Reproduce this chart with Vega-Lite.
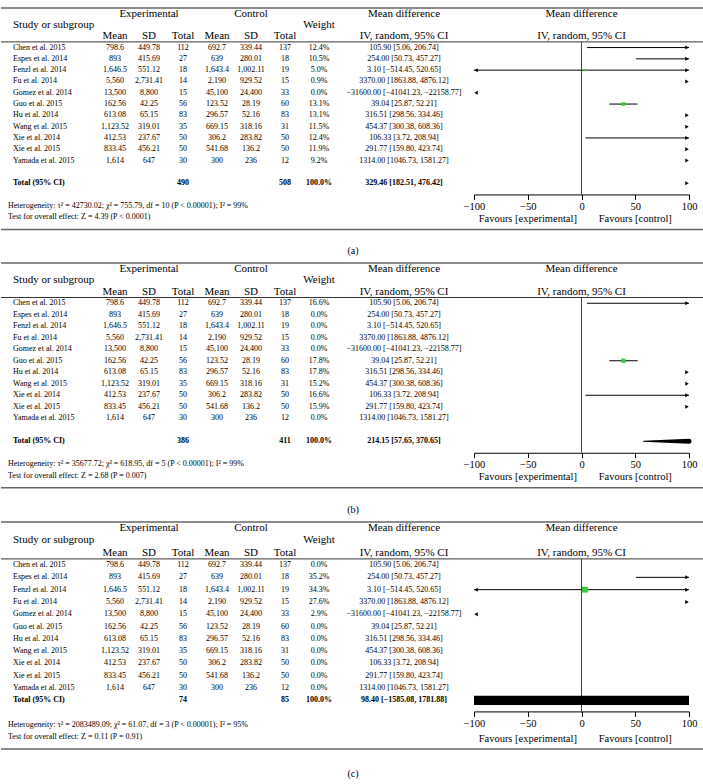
{
"$schema": "https://vega.github.io/schema/vega-lite/v6.json",
"padding": {"left": 0, "right": 0, "top": 7, "bottom": 0},
"spacing": 5,
"config": {"view": {"stroke": null}, "text": {"font": "Liberation Serif", "color": "#000", "baseline": "middle"}},
"datasets": {
"studies": [
{"name":"Chen et al. 2015","eMean":"798.6","eSD":"449.78","eTot":"112","cMean":"692.7","cSD":"339.44","cTot":"137","md":"105.90 [5.06, 206.74]","est":105.9,"lo":5.06,"hi":206.74,"wa":0.124,"wb":0.166,"wc":0},
{"name":"Espes et al. 2014","eMean":"893","eSD":"415.69","eTot":"27","cMean":"639","cSD":"280.01","cTot":"18","md":"254.00 [50.73, 457.27]","est":254,"lo":50.73,"hi":457.27,"wa":0.105,"wb":0,"wc":0.352},
{"name":"Fenzl et al. 2014","eMean":"1,646.5","eSD":"551.12","eTot":"18","cMean":"1,643.4","cSD":"1,002.11","cTot":"19","md":"3.10 [−514.45, 520.65]","est":3.1,"lo":-514.45,"hi":520.65,"wa":0.05,"wb":0,"wc":0.343},
{"name":"Fu et al. 2014","eMean":"5,560","eSD":"2,731.41","eTot":"14","cMean":"2,190","cSD":"929.52","cTot":"15","md":"3370.00 [1863.88, 4876.12]","est":3370,"lo":1863.88,"hi":4876.12,"wa":0.009,"wb":0,"wc":0.276},
{"name":"Gomez et al. 2014","eMean":"13,500","eSD":"8,800","eTot":"15","cMean":"45,100","cSD":"24,400","cTot":"33","md":"−31600.00 [−41041.23, −22158.77]","est":-31600,"lo":-41041.23,"hi":-22158.77,"wa":0,"wb":0,"wc":0.029},
{"name":"Guo et al. 2015","eMean":"162.56","eSD":"42.25","eTot":"56","cMean":"123.52","cSD":"28.19","cTot":"60","md":"39.04 [25.87, 52.21]","est":39.04,"lo":25.87,"hi":52.21,"wa":0.131,"wb":0.178,"wc":0},
{"name":"Hu et al. 2014","eMean":"613.08","eSD":"65.15","eTot":"83","cMean":"296.57","cSD":"52.16","cTot":"83","md":"316.51 [298.56, 334.46]","est":316.51,"lo":298.56,"hi":334.46,"wa":0.131,"wb":0.178,"wc":0},
{"name":"Wang et al. 2015","eMean":"1,123.52","eSD":"319.01","eTot":"35","cMean":"669.15","cSD":"318.16","cTot":"31","md":"454.37 [300.38, 608.36]","est":454.37,"lo":300.38,"hi":608.36,"wa":0.115,"wb":0.152,"wc":0},
{"name":"Xie et al. 2014","eMean":"412.53","eSD":"237.67","eTot":"50","cMean":"306.2","cSD":"283.82","cTot":"50","md":"106.33 [3.72, 208.94]","est":106.33,"lo":3.72,"hi":208.94,"wa":0.124,"wb":0.166,"wc":0},
{"name":"Xie et al. 2015","eMean":"833.45","eSD":"456.21","eTot":"50","cMean":"541.68","cSD":"136.2","cTot":"50","md":"291.77 [159.80, 423.74]","est":291.77,"lo":159.8,"hi":423.74,"wa":0.119,"wb":0.159,"wc":0},
{"name":"Yamada et al. 2015","eMean":"1,614","eSD":"647","eTot":"30","cMean":"300","cSD":"236","cTot":"12","md":"1314.00 [1046.73, 1581.27]","est":1314,"lo":1046.73,"hi":1581.27,"wa":0.092,"wb":0,"wc":0}
],
"heads": [
{"line":"h1","col":"eSD","t":"Experimental"},{"line":"h1","col":"cSD","t":"Control"},{"line":"h1","col":"md","t":"Mean difference"},{"line":"hm","col":"wt","t":"Weight"},
{"line":"h2","col":"eMean","t":"Mean"},{"line":"h2","col":"eSD","t":"SD"},{"line":"h2","col":"eTot","t":"Total"},
{"line":"h2","col":"cMean","t":"Mean"},{"line":"h2","col":"cSD","t":"SD"},{"line":"h2","col":"cTot","t":"Total"},{"line":"h2","col":"md","t":"IV, random, 95% CI"}
],
"fheads": [{"line":"h1","t":"Mean difference"},{"line":"h2","t":"IV, random, 95% CI"}]
},
"vconcat": [
{
"width": 703, "height": {"step": 11.3},
"resolve": {"scale": {"x": "independent"}, "axis": {"x": "independent"}},
"layer": [
{"layer": [
{"data": {"values": [{"line":"h1"}]}, "mark": {"type":"rule","color":"#666","strokeWidth":1.5},
 "encoding": {"y": {"field":"line","type":"ordinal","bandPosition":0,"axis":null,
  "scale": {"type":"band","paddingInner":0,"paddingOuter":0,"domain":["h1","hm","h2","Chen et al. 2015","Espes et al. 2014","Fenzl et al. 2014","Fu et al. 2014","Gomez et al. 2014","Guo et al. 2015","Hu et al. 2014","Wang et al. 2015","Xie et al. 2014","Xie et al. 2015","Yamada et al. 2015","gap","Total (95% CI)","axis","het","test","bot","gap2","lab"]}}}},
{"data": {"values": [{"line":"Chen et al. 2015"}]}, "mark": {"type":"rule","color":"#000","strokeWidth":0.8}, "encoding": {"y": {"field":"line","type":"ordinal","bandPosition":0}}},
{"data": {"values": [{"line":"bot"}]}, "mark": {"type":"rule","color":"#666","strokeWidth":1.5}, "encoding": {"y": {"field":"line","type":"ordinal","bandPosition":0.6}}},
{"data": {"name":"studies"}, "transform": [{"fold":["eMean","eSD","eTot","cMean","cSD","cTot","md"],"as":["col","val"]}],
 "mark": {"type":"text","fontSize":8},
 "encoding": {"x": {"field":"col","type":"nominal","axis":null,"scale":{"type":"point","padding":0,"range":[12,403],"domain":["name","s1","s2","s3","s4","s5","eMean","g1","eSD","g2","eTot","g3","cMean","g4","cSD","g5","cTot","g6","wt","g7","lab","g8","g9","md"]}},
  "y": {"field":"name","type":"ordinal"}, "text": {"field":"val"}}},
{"data": {"name":"studies"}, "mark": {"type":"text","fontSize":8,"align":"left"}, "encoding": {"x": {"datum":"name","type":"nominal"}, "y": {"field":"name","type":"ordinal"}, "text": {"field":"name"}}},
{"data": {"name":"studies"}, "mark": {"type":"text","fontSize":8}, "encoding": {"x": {"datum":"wt","type":"nominal"}, "y": {"field":"name","type":"ordinal"}, "text": {"field":"wa","type":"quantitative","format":".1%"}}},
{"data": {"name":"heads"}, "mark": {"type":"text","fontSize":11}, "encoding": {"x": {"field":"col","type":"nominal"}, "y": {"field":"line","type":"ordinal"}, "text": {"field":"t"}}},
{"data": {"values": [{"line":"hm","t":"Study or subgroup"}]}, "mark": {"type":"text","fontSize":11,"align":"left"}, "encoding": {"x": {"datum":"name","type":"nominal"}, "y": {"field":"line","type":"ordinal"}, "text": {"field":"t"}}},
{"data": {"values": [{"name":"Total (95% CI)","eTot":"490","cTot":"508","wt":"100.0%","md":"329.46 [182.51, 476.42]"}]}, "transform": [{"fold":["eTot","cTot","wt","md"],"as":["col","val"]}],
 "mark": {"type":"text","fontSize":8,"fontWeight":"bold"}, "encoding": {"x": {"field":"col","type":"nominal"}, "y": {"field":"name","type":"ordinal"}, "text": {"field":"val"}}},
{"data": {"values": [{"name":"Total (95% CI)"}]}, "mark": {"type":"text","fontSize":8,"fontWeight":"bold","align":"left"}, "encoding": {"x": {"datum":"name","type":"nominal"}, "y": {"field":"name","type":"ordinal"}, "text": {"field":"name"}}},
{"data": {"values": [{"line":"het","t":"Heterogeneity: τ² = 42730.02; χ² = 755.79, df = 10 (P < 0.00001); I² = 99%"},{"line":"test","t":"Test for overall effect: Z = 4.39 (P < 0.0001)"}]},
 "mark": {"type":"text","fontSize":8,"align":"left","dx":-5}, "encoding": {"x": {"datum":"name","type":"nominal"}, "y": {"field":"line","type":"ordinal"}, "text": {"field":"t"}}},
{"data": {"values": [{"line":"lab","t":"(a)"}]}, "mark": {"type":"text","fontSize":10}, "encoding": {"x": {"datum":"lab","type":"nominal"}, "y": {"field":"line","type":"ordinal"}, "text": {"field":"t"}}}
]},
{"resolve": {"scale": {"size": "independent"}},
"layer": [
{"data": {"values": [{}]}, "mark": {"type":"rule","color":"#444","strokeWidth":1},
 "encoding": {"x": {"datum":0,"type":"quantitative","scale":{"domain":[-100,100],"range":[473,688],"clamp":true},
  "axis":{"orient":"bottom","values":[-100,-50,0,50,100],"offset":-62.15,"title":null,"grid":false,"labelFlush":false,"labelFont":"Liberation Serif","labelFontSize":10.5,"labelColor":"#000","domainColor":"#000","tickColor":"#000","tickSize":5,"labelPadding":2,"domainWidth":1,"tickWidth":1}},
  "y": {"datum":"Chen et al. 2015","type":"ordinal","bandPosition":0}, "y2": {"datum":"axis"}}},
{"data": {"name":"studies"}, "mark": {"type":"rule","color":"#000","strokeWidth":1}, "encoding": {"x": {"field":"lo","type":"quantitative"}, "x2": {"field":"hi"}, "y": {"field":"name","type":"ordinal"}}},
{"data": {"name":"studies"}, "transform": [{"filter":"datum.hi > 100"}], "mark": {"type":"point","shape":"triangle-right","filled":true,"color":"#000","opacity":1,"size":16,"xOffset":-2}, "encoding": {"x": {"field":"hi","type":"quantitative"}, "y": {"field":"name","type":"ordinal"}}},
{"data": {"name":"studies"}, "transform": [{"filter":"datum.lo < -100"}], "mark": {"type":"point","shape":"triangle-left","filled":true,"color":"#000","opacity":1,"size":16,"xOffset":2}, "encoding": {"x": {"field":"lo","type":"quantitative"}, "y": {"field":"name","type":"ordinal"}}},
{"data": {"name":"studies"}, "transform": [{"filter":"datum.est >= -100 && datum.est <= 100"}], "mark": {"type":"square","filled":true,"color":"#33cc33","opacity":1},
 "encoding": {"x": {"field":"est","type":"quantitative"}, "y": {"field":"name","type":"ordinal"}, "size": {"field":"wa","type":"quantitative","scale":{"domain":[0,1],"range":[0,100]},"legend":null}}},
{"data": {"values": [{"name":"Total (95% CI)","lo":182.51,"hi":476.42}]}, "mark": {"type":"point","shape":"triangle-right","filled":true,"color":"#000","opacity":1,"size":16,"xOffset":-2}, "encoding": {"x": {"field":"hi","type":"quantitative"}, "y": {"field":"name","type":"ordinal"}}},
{"data": {"name":"fheads"}, "mark": {"type":"text","fontSize":11}, "encoding": {"x": {"datum":0,"type":"quantitative"}, "y": {"field":"line","type":"ordinal"}, "text": {"field":"t"}}},
{"data": {"values": [{"line":"test","t":"Favours [experimental]"}]}, "mark": {"type":"text","fontSize":10.5,"dy":1.5}, "encoding": {"x": {"datum":-50,"type":"quantitative"}, "y": {"field":"line","type":"ordinal"}, "text": {"field":"t"}}},
{"data": {"values": [{"line":"test","t":"Favours [control]"}]}, "mark": {"type":"text","fontSize":10.5,"dy":1.5}, "encoding": {"x": {"datum":50,"type":"quantitative"}, "y": {"field":"line","type":"ordinal"}, "text": {"field":"t"}}}
]}
]
},
{
"width": 703, "height": {"step": 11.5},
"resolve": {"scale": {"x": "independent"}, "axis": {"x": "independent"}},
"layer": [
{"layer": [
{"data": {"values": [{"line":"h1"}]}, "mark": {"type":"rule","color":"#666","strokeWidth":1.5},
 "encoding": {"y": {"field":"line","type":"ordinal","bandPosition":0,"axis":null,
  "scale": {"type":"band","paddingInner":0,"paddingOuter":0,"domain":["h1","hm","h2","Chen et al. 2015","Espes et al. 2014","Fenzl et al. 2014","Fu et al. 2014","Gomez et al. 2014","Guo et al. 2015","Hu et al. 2014","Wang et al. 2015","Xie et al. 2014","Xie et al. 2015","Yamada et al. 2015","gap","Total (95% CI)","axis","het","test","bot","gap2","lab"]}}}},
{"data": {"values": [{"line":"Chen et al. 2015"}]}, "mark": {"type":"rule","color":"#000","strokeWidth":0.8}, "encoding": {"y": {"field":"line","type":"ordinal","bandPosition":0}}},
{"data": {"values": [{"line":"bot"}]}, "mark": {"type":"rule","color":"#666","strokeWidth":1.5}, "encoding": {"y": {"field":"line","type":"ordinal","bandPosition":0.55}}},
{"data": {"name":"studies"}, "transform": [{"fold":["eMean","eSD","eTot","cMean","cSD","cTot","md"],"as":["col","val"]}],
 "mark": {"type":"text","fontSize":8},
 "encoding": {"x": {"field":"col","type":"nominal","axis":null,"scale":{"type":"point","padding":0,"range":[12,403],"domain":["name","s1","s2","s3","s4","s5","eMean","g1","eSD","g2","eTot","g3","cMean","g4","cSD","g5","cTot","g6","wt","g7","lab","g8","g9","md"]}},
  "y": {"field":"name","type":"ordinal"}, "text": {"field":"val"}}},
{"data": {"name":"studies"}, "mark": {"type":"text","fontSize":8,"align":"left"}, "encoding": {"x": {"datum":"name","type":"nominal"}, "y": {"field":"name","type":"ordinal"}, "text": {"field":"name"}}},
{"data": {"name":"studies"}, "mark": {"type":"text","fontSize":8}, "encoding": {"x": {"datum":"wt","type":"nominal"}, "y": {"field":"name","type":"ordinal"}, "text": {"field":"wb","type":"quantitative","format":".1%"}}},
{"data": {"name":"heads"}, "mark": {"type":"text","fontSize":11}, "encoding": {"x": {"field":"col","type":"nominal"}, "y": {"field":"line","type":"ordinal"}, "text": {"field":"t"}}},
{"data": {"values": [{"line":"hm","t":"Study or subgroup"}]}, "mark": {"type":"text","fontSize":11,"align":"left"}, "encoding": {"x": {"datum":"name","type":"nominal"}, "y": {"field":"line","type":"ordinal"}, "text": {"field":"t"}}},
{"data": {"values": [{"name":"Total (95% CI)","eTot":"386","cTot":"411","wt":"100.0%","md":"214.15 [57.65, 370.65]"}]}, "transform": [{"fold":["eTot","cTot","wt","md"],"as":["col","val"]}],
 "mark": {"type":"text","fontSize":8,"fontWeight":"bold"}, "encoding": {"x": {"field":"col","type":"nominal"}, "y": {"field":"name","type":"ordinal"}, "text": {"field":"val"}}},
{"data": {"values": [{"name":"Total (95% CI)"}]}, "mark": {"type":"text","fontSize":8,"fontWeight":"bold","align":"left"}, "encoding": {"x": {"datum":"name","type":"nominal"}, "y": {"field":"name","type":"ordinal"}, "text": {"field":"name"}}},
{"data": {"values": [{"line":"het","t":"Heterogeneity: τ² = 35677.72; χ² = 618.95, df = 5 (P < 0.00001); I² = 99%"},{"line":"test","t":"Test for overall effect: Z = 2.68 (P = 0.007)"}]},
 "mark": {"type":"text","fontSize":8,"align":"left","dx":-5}, "encoding": {"x": {"datum":"name","type":"nominal"}, "y": {"field":"line","type":"ordinal"}, "text": {"field":"t"}}},
{"data": {"values": [{"line":"lab","t":"(b)"}]}, "mark": {"type":"text","fontSize":10}, "encoding": {"x": {"datum":"lab","type":"nominal"}, "y": {"field":"line","type":"ordinal"}, "text": {"field":"t"}}}
]},
{"resolve": {"scale": {"size": "independent"}},
"layer": [
{"data": {"values": [{}]}, "mark": {"type":"rule","color":"#444","strokeWidth":1},
 "encoding": {"x": {"datum":0,"type":"quantitative","scale":{"domain":[-100,100],"range":[473,688],"clamp":true},
  "axis":{"orient":"bottom","values":[-100,-50,0,50,100],"offset":-63.25,"title":null,"grid":false,"labelFlush":false,"labelFont":"Liberation Serif","labelFontSize":10.5,"labelColor":"#000","domainColor":"#000","tickColor":"#000","tickSize":5,"labelPadding":2,"domainWidth":1,"tickWidth":1}},
  "y": {"datum":"Chen et al. 2015","type":"ordinal","bandPosition":0}, "y2": {"datum":"axis"}}},
{"data": {"name":"studies"}, "transform": [{"filter":"datum.wb > 0"}], "mark": {"type":"rule","color":"#000","strokeWidth":1}, "encoding": {"x": {"field":"lo","type":"quantitative"}, "x2": {"field":"hi"}, "y": {"field":"name","type":"ordinal"}}},
{"data": {"name":"studies"}, "transform": [{"filter":"datum.wb > 0 && datum.hi > 100"}], "mark": {"type":"point","shape":"triangle-right","filled":true,"color":"#000","opacity":1,"size":16,"xOffset":-2}, "encoding": {"x": {"field":"hi","type":"quantitative"}, "y": {"field":"name","type":"ordinal"}}},
{"data": {"name":"studies"}, "transform": [{"filter":"datum.wb > 0 && datum.lo < -100"}], "mark": {"type":"point","shape":"triangle-left","filled":true,"color":"#000","opacity":1,"size":16,"xOffset":2}, "encoding": {"x": {"field":"lo","type":"quantitative"}, "y": {"field":"name","type":"ordinal"}}},
{"data": {"name":"studies"}, "transform": [{"filter":"datum.wb > 0 && datum.est >= -100 && datum.est <= 100"}], "mark": {"type":"square","filled":true,"color":"#33cc33","opacity":1},
 "encoding": {"x": {"field":"est","type":"quantitative"}, "y": {"field":"name","type":"ordinal"}, "size": {"field":"wb","type":"quantitative","scale":{"domain":[0,1],"range":[0,100]},"legend":null}}},
{"data": {"values": [{"name":"Total (95% CI)","lo":57.65,"est":214.15,"hi":370.65}]}, "transform": [{"fold":["lo","est"],"as":["k","v"]}],
 "mark": {"type":"trail","color":"#000"},
 "encoding": {"x": {"field":"v","type":"quantitative"}, "y": {"field":"name","type":"ordinal"}, "size": {"field":"k","type":"ordinal","scale":{"type":"point","padding":0,"domain":["lo","est"],"range":[0,5]},"legend":null}}},
{"data": {"name":"fheads"}, "mark": {"type":"text","fontSize":11}, "encoding": {"x": {"datum":0,"type":"quantitative"}, "y": {"field":"line","type":"ordinal"}, "text": {"field":"t"}}},
{"data": {"values": [{"line":"test","t":"Favours [experimental]"}]}, "mark": {"type":"text","fontSize":10.5,"dy":1.5}, "encoding": {"x": {"datum":-50,"type":"quantitative"}, "y": {"field":"line","type":"ordinal"}, "text": {"field":"t"}}},
{"data": {"values": [{"line":"test","t":"Favours [control]"}]}, "mark": {"type":"text","fontSize":10.5,"dy":1.5}, "encoding": {"x": {"datum":50,"type":"quantitative"}, "y": {"field":"line","type":"ordinal"}, "text": {"field":"t"}}}
]}
]
},
{
"width": 703, "height": {"step": 12.3},
"resolve": {"scale": {"x": "independent"}, "axis": {"x": "independent"}},
"layer": [
{"layer": [
{"data": {"values": [{"line":"h1"}]}, "mark": {"type":"rule","color":"#666","strokeWidth":1.5},
 "encoding": {"y": {"field":"line","type":"ordinal","bandPosition":0,"axis":null,
  "scale": {"type":"band","paddingInner":0,"paddingOuter":0,"domain":["h1","hm","h2","Chen et al. 2015","Espes et al. 2014","Fenzl et al. 2014","Fu et al. 2014","Gomez et al. 2014","Guo et al. 2015","Hu et al. 2014","Wang et al. 2015","Xie et al. 2014","Xie et al. 2015","Yamada et al. 2015","Total (95% CI)","axis","het","test","bot","gap2","lab"]}}}},
{"data": {"values": [{"line":"Chen et al. 2015"}]}, "mark": {"type":"rule","color":"#000","strokeWidth":0.8}, "encoding": {"y": {"field":"line","type":"ordinal","bandPosition":0}}},
{"data": {"values": [{"line":"bot"}]}, "mark": {"type":"rule","color":"#666","strokeWidth":1.5}, "encoding": {"y": {"field":"line","type":"ordinal","bandPosition":0.45}}},
{"data": {"name":"studies"}, "transform": [{"fold":["eMean","eSD","eTot","cMean","cSD","cTot","md"],"as":["col","val"]}],
 "mark": {"type":"text","fontSize":8},
 "encoding": {"x": {"field":"col","type":"nominal","axis":null,"scale":{"type":"point","padding":0,"range":[12,403],"domain":["name","s1","s2","s3","s4","s5","eMean","g1","eSD","g2","eTot","g3","cMean","g4","cSD","g5","cTot","g6","wt","g7","lab","g8","g9","md"]}},
  "y": {"field":"name","type":"ordinal"}, "text": {"field":"val"}}},
{"data": {"name":"studies"}, "mark": {"type":"text","fontSize":8,"align":"left"}, "encoding": {"x": {"datum":"name","type":"nominal"}, "y": {"field":"name","type":"ordinal"}, "text": {"field":"name"}}},
{"data": {"name":"studies"}, "mark": {"type":"text","fontSize":8}, "encoding": {"x": {"datum":"wt","type":"nominal"}, "y": {"field":"name","type":"ordinal"}, "text": {"field":"wc","type":"quantitative","format":".1%"}}},
{"data": {"name":"heads"}, "mark": {"type":"text","fontSize":11}, "encoding": {"x": {"field":"col","type":"nominal"}, "y": {"field":"line","type":"ordinal"}, "text": {"field":"t"}}},
{"data": {"values": [{"line":"hm","t":"Study or subgroup"}]}, "mark": {"type":"text","fontSize":11,"align":"left"}, "encoding": {"x": {"datum":"name","type":"nominal"}, "y": {"field":"line","type":"ordinal"}, "text": {"field":"t"}}},
{"data": {"values": [{"name":"Total (95% CI)","eTot":"74","cTot":"85","wt":"100.0%","md":"98.40 [−1585.08, 1781.88]"}]}, "transform": [{"fold":["eTot","cTot","wt","md"],"as":["col","val"]}],
 "mark": {"type":"text","fontSize":8,"fontWeight":"bold"}, "encoding": {"x": {"field":"col","type":"nominal"}, "y": {"field":"name","type":"ordinal"}, "text": {"field":"val"}}},
{"data": {"values": [{"name":"Total (95% CI)"}]}, "mark": {"type":"text","fontSize":8,"fontWeight":"bold","align":"left"}, "encoding": {"x": {"datum":"name","type":"nominal"}, "y": {"field":"name","type":"ordinal"}, "text": {"field":"name"}}},
{"data": {"values": [{"line":"het","t":"Heterogeneity: τ² = 2083489.09; χ² = 61.07, df = 3 (P < 0.00001); I² = 95%"},{"line":"test","t":"Test for overall effect: Z = 0.11 (P = 0.91)"}]},
 "mark": {"type":"text","fontSize":8,"align":"left","dx":-5}, "encoding": {"x": {"datum":"name","type":"nominal"}, "y": {"field":"line","type":"ordinal"}, "text": {"field":"t"}}},
{"data": {"values": [{"line":"lab","t":"(c)"}]}, "mark": {"type":"text","fontSize":10}, "encoding": {"x": {"datum":"lab","type":"nominal"}, "y": {"field":"line","type":"ordinal"}, "text": {"field":"t"}}}
]},
{"resolve": {"scale": {"size": "independent"}},
"layer": [
{"data": {"values": [{}]}, "mark": {"type":"rule","color":"#444","strokeWidth":1},
 "encoding": {"x": {"datum":0,"type":"quantitative","scale":{"domain":[-100,100],"range":[473,688],"clamp":true},
  "axis":{"orient":"bottom","values":[-100,-50,0,50,100],"offset":-68.88,"title":null,"grid":false,"labelFlush":false,"labelFont":"Liberation Serif","labelFontSize":10.5,"labelColor":"#000","domainColor":"#000","tickColor":"#000","tickSize":5,"labelPadding":2,"domainWidth":1,"tickWidth":1}},
  "y": {"datum":"Chen et al. 2015","type":"ordinal","bandPosition":0}, "y2": {"datum":"axis"}}},
{"data": {"name":"studies"}, "transform": [{"filter":"datum.wc > 0"}], "mark": {"type":"rule","color":"#000","strokeWidth":1}, "encoding": {"x": {"field":"lo","type":"quantitative"}, "x2": {"field":"hi"}, "y": {"field":"name","type":"ordinal"}}},
{"data": {"name":"studies"}, "transform": [{"filter":"datum.wc > 0 && datum.hi > 100"}], "mark": {"type":"point","shape":"triangle-right","filled":true,"color":"#000","opacity":1,"size":16,"xOffset":-2}, "encoding": {"x": {"field":"hi","type":"quantitative"}, "y": {"field":"name","type":"ordinal"}}},
{"data": {"name":"studies"}, "transform": [{"filter":"datum.wc > 0 && datum.lo < -100"}], "mark": {"type":"point","shape":"triangle-left","filled":true,"color":"#000","opacity":1,"size":16,"xOffset":2}, "encoding": {"x": {"field":"lo","type":"quantitative"}, "y": {"field":"name","type":"ordinal"}}},
{"data": {"name":"studies"}, "transform": [{"filter":"datum.wc > 0 && datum.est >= -100 && datum.est <= 100"}], "mark": {"type":"square","filled":true,"color":"#33cc33","opacity":1},
 "encoding": {"x": {"field":"est","type":"quantitative"}, "y": {"field":"name","type":"ordinal"}, "size": {"field":"wc","type":"quantitative","scale":{"domain":[0,1],"range":[0,100]},"legend":null}}},
{"data": {"values": [{"name":"Total (95% CI)","lo":-1585.08,"est":98.4,"hi":1781.88}]}, "mark": {"type":"bar","color":"#000","height":{"band":0.75}},
 "encoding": {"x": {"field":"lo","type":"quantitative"}, "x2": {"field":"hi"}, "y": {"field":"name","type":"ordinal"}}},
{"data": {"name":"fheads"}, "mark": {"type":"text","fontSize":11}, "encoding": {"x": {"datum":0,"type":"quantitative"}, "y": {"field":"line","type":"ordinal"}, "text": {"field":"t"}}},
{"data": {"values": [{"line":"test","t":"Favours [experimental]"}]}, "mark": {"type":"text","fontSize":10.5,"dy":1.5}, "encoding": {"x": {"datum":-50,"type":"quantitative"}, "y": {"field":"line","type":"ordinal"}, "text": {"field":"t"}}},
{"data": {"values": [{"line":"test","t":"Favours [control]"}]}, "mark": {"type":"text","fontSize":10.5,"dy":1.5}, "encoding": {"x": {"datum":50,"type":"quantitative"}, "y": {"field":"line","type":"ordinal"}, "text": {"field":"t"}}}
]}
]
}
]
}
